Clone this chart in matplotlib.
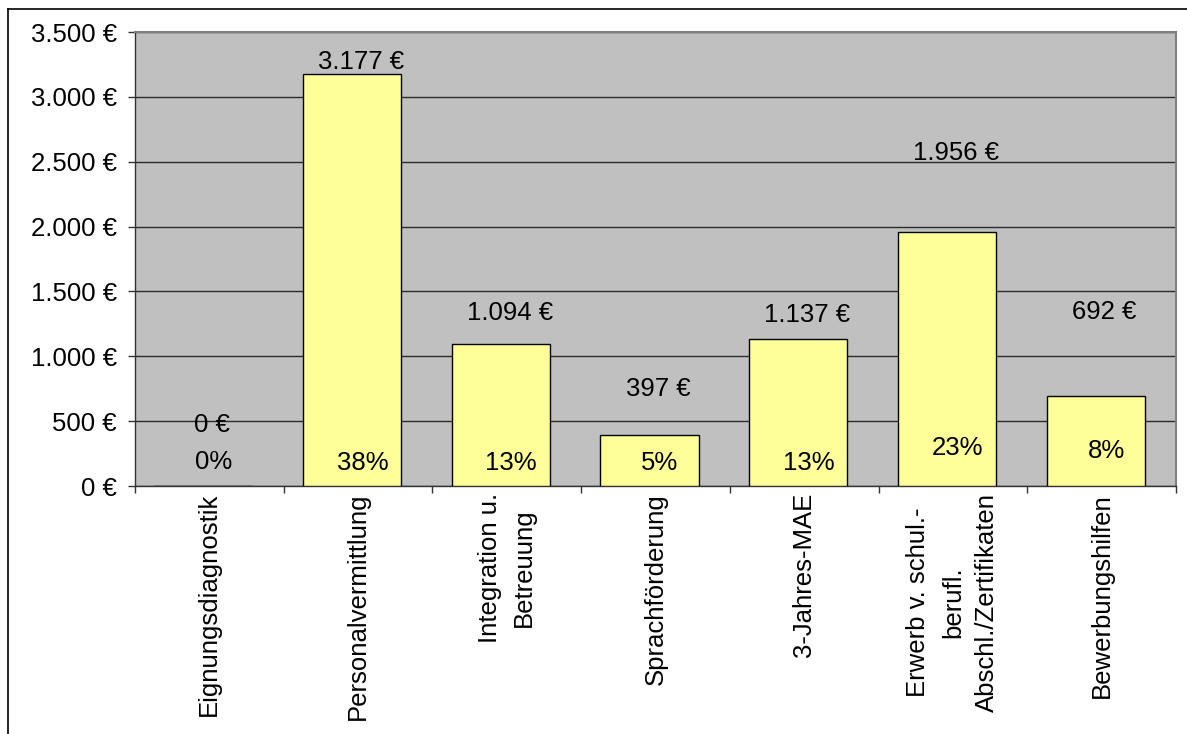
import matplotlib
matplotlib.use("Agg")
import matplotlib.pyplot as plt
from matplotlib.lines import Line2D

plt.rcParams['font.family'] = ['Liberation Sans', 'DejaVu Sans']

categories = ["Eignungsdiagnostik", "Personalvermittlung", "Integration u.\nBetreuung",
              "Sprachförderung", "3-Jahres-MAE",
              "Erwerb v. schul.-\nberufl.\nAbschl./Zertifikaten", "Bewerbungshilfen"]
values = [0, 3177, 1094, 397, 1137, 1956, 692]
value_labels = ["0 €", "3.177 €", "1.094 €", "397 €", "1.137 €", "1.956 €", "692 €"]
pct_labels = ["0%", "38%", "13%", "5%", "13%", "23%", "8%"]
# vertical placement of the labels (data units)
value_label_y = [470, 3269, 1334, 748, 1318, 2567, 1341]
pct_label_y = [185, 177, 177, 177, 177, 293, 270]
yticks = [0, 500, 1000, 1500, 2000, 2500, 3000, 3500]
ytick_labels = ["0 €", "500 €", "1.000 €", "1.500 €", "2.000 €", "2.500 €", "3.000 €", "3.500 €"]

W, H = 1187, 734
fig = plt.figure(figsize=(W / 100, H / 100), dpi=100)
fig.patch.set_facecolor("white")

L, T, R, B = 135, 32, 1176, 486
ax = fig.add_axes([L / W, 1 - B / H, (R - L) / W, (B - T) / H])
ax.set_facecolor("#C0C0C0")

x = list(range(len(categories)))
ax.set_axisbelow(True)
ax.yaxis.grid(True, color="#2b2b2b", linewidth=1.0)
ax.bar([i - 0.04 for i in x], values, width=0.66, color="#FFFF99",
       edgecolor="black", linewidth=1.0, zorder=3)

fs = 18.5
for i in x:
    ax.text(i + 0.02, value_label_y[i], value_labels[i], ha="center", va="center",
            fontsize=fs, color="black", zorder=4)
    ax.text(i + 0.03, pct_label_y[i], pct_labels[i], ha="center", va="center",
            fontsize=fs, color="black", zorder=4)

ax.set_xlim(-0.5, len(categories) - 0.5)
ax.set_ylim(0, 3500)
ax.set_yticks(yticks)
ax.set_yticklabels(ytick_labels, fontsize=fs)
ax.set_xticks([i + 0.5 for i in range(-1, len(categories))])
ax.set_xticklabels([])
ax.set_xticks(x, minor=True)
ax.set_xticklabels(categories, minor=True, rotation=90, fontsize=fs,
                   ha="center", va="top", multialignment="center", linespacing=1.55)
ax.tick_params(axis="x", which="minor", length=0, pad=5)
ax.tick_params(axis="x", which="major", length=5, width=1, color="#333333", direction="out")
ax.tick_params(axis="y", length=5, width=1, color="#333333", direction="out", pad=8)

for s in ["left", "bottom"]:
    ax.spines[s].set_color("#333333")
    ax.spines[s].set_linewidth(1.0)
for s in ["top", "right"]:
    ax.spines[s].set_color("#808080")
    ax.spines[s].set_linewidth(1.5)

# outer chart border (top and left edges visible)
fx = 8 / W
fy = 1 - 9 / H
fig.add_artist(Line2D([fx, 1.0], [fy, fy], transform=fig.transFigure, color="black", linewidth=1.2))
fig.add_artist(Line2D([fx, fx], [fy, 0.0], transform=fig.transFigure, color="black", linewidth=1.2))

fig.savefig("out.png", dpi=100)
